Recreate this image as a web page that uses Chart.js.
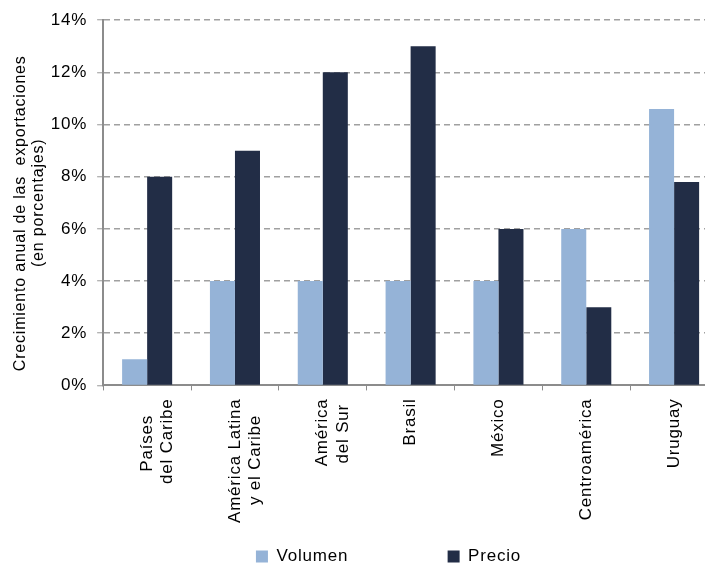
<!DOCTYPE html>
<html>
<head>
<meta charset="utf-8">
<script src="https://cdn.jsdelivr.net/npm/chart.js@4.4.1/dist/chart.umd.min.js"></script>
<style>
  html, body { margin: 0; padding: 0; background: #fff; overflow: hidden; }
  #wrap { width: 720px; height: 575px; position: relative; }
</style>
</head>
<body>
<div id="wrap"><canvas id="chart"></canvas></div>
<script>
// categories (trailing spaces roughly centre the shorter line of each label)
const categories = [
  ['Países   ', 'del Caribe'],
  ['América Latina', 'y el Caribe   '],
  ['América', 'del Sur '],
  'Brasil',
  'México',
  'Centroamérica',
  'Uruguay'
];
const volumen = [1, 4, 4, 4, 4, 6, 10.6];
const precio = [8, 9, 12, 13, 6, 3, 7.8];
const yTicks = [0, 2, 4, 6, 8, 10, 12, 14];
const seriesNames = ['Volumen', 'Precio'];

const font = { family: "'Liberation Sans', Arial, sans-serif", size: 17 };
const legendGaps = [' '.repeat(18), ' '.repeat(8)];

// the original text is set a little looser than Liberation Sans
const spacing = {
  id: 'spacing',
  beforeUpdate: (chart) => { chart.ctx.letterSpacing = '0.8px'; },
  beforeDraw: (chart) => { chart.ctx.letterSpacing = '0.8px'; }
};

new Chart(document.getElementById('chart'), {
  type: 'bar',
  plugins: [spacing],
  data: {
    labels: categories,
    datasets: [
      {
        label: seriesNames[0],
        data: volumen,
        backgroundColor: '#95B3D7',
        categoryPercentage: 0.57,
        barPercentage: 1.0
      },
      {
        label: seriesNames[1],
        data: precio,
        backgroundColor: '#222D46',
        categoryPercentage: 0.57,
        barPercentage: 1.0
      }
    ]
  },
  options: {
    responsive: true,
    maintainAspectRatio: false,
    animation: false,
    layout: { padding: { top: 12, right: 2, bottom: 0, left: 11 } },
    plugins: {
      tooltip: { enabled: false },
      legend: {
        position: 'bottom',
        fullSize: false,
        labels: {
          color: '#000',
          font: font,
          boxWidth: 12,
          boxHeight: 12,
          padding: 0,
          generateLabels: (chart) =>
            Chart.defaults.plugins.legend.labels.generateLabels(chart).map((item, i) => ({
              ...item,
              text: item.text + legendGaps[i],
              lineWidth: 0
            }))
        }
      }
    },
    scales: {
      x: {
        afterFit: (axis) => { axis.height += 17; },
        border: { display: true, color: '#8C8C8C', width: 2 },
        grid: {
          display: true,
          drawOnChartArea: false,
          drawTicks: true,
          tickLength: 5,
          tickColor: '#8C8C8C',
          tickWidth: 1
        },
        ticks: {
          color: '#000',
          font: font,
          minRotation: 90,
          maxRotation: 90,
          autoSkip: false,
          padding: 8
        }
      },
      y: {
        min: 0,
        max: 14,
        afterBuildTicks: (axis) => { axis.ticks = yTicks.map(v => ({ value: v })); },
        afterFit: (axis) => { axis.width -= 10; },
        border: { display: true, color: '#8C8C8C', width: 2, dash: [6, 4] },
        grid: {
          color: (ctx) => ctx.tick && ctx.tick.value === 0 ? 'rgba(0,0,0,0)' : '#A0A0A0',
          lineWidth: 1.5,
          drawTicks: true,
          tickLength: 6,
          tickColor: '#8C8C8C',
          tickWidth: 1,
          tickBorderDash: [1, 0]
        },
        ticks: {
          color: '#000',
          font: font,
          padding: 10,
          callback: (v) => v + '%'
        },
        title: {
          display: true,
          text: ['Crecimiento anual de las  exportaciones' + ' '.repeat(4), '(en porcentajes)'],
          color: '#000',
          font: { family: font.family, size: 16, lineHeight: 1.15 },
          padding: { top: 0, bottom: 3 }
        }
      }
    }
  }
});
</script>
</body>
</html>
